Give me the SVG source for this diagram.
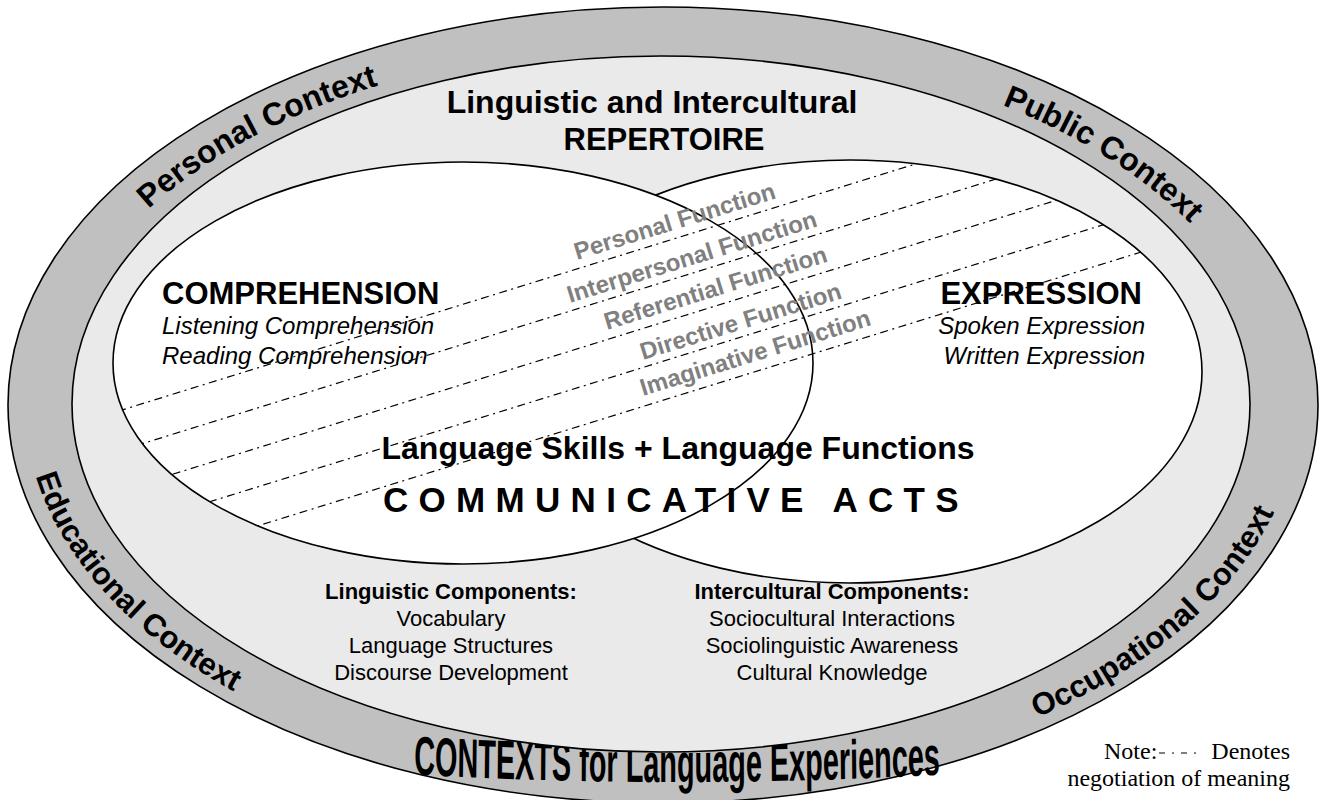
<svg xmlns="http://www.w3.org/2000/svg" width="1323" height="800" viewBox="0 0 1323 800">
<defs>
<style>
.edge{stroke:#000;stroke-width:1.6}
.head{font-family:"Liberation Sans",Arial,sans-serif;font-weight:bold;font-size:31px;fill:#000}
.sub{font-family:"Liberation Sans",Arial,sans-serif;font-style:italic;font-size:24px;fill:#000}
.ctx{font-family:"Liberation Sans",Arial,sans-serif;font-weight:bold;font-size:31px;fill:#000}
.fn{font-family:"Liberation Sans",Arial,sans-serif;font-weight:bold;font-size:24px;fill:#808080}
.comp{font-family:"Liberation Sans",Arial,sans-serif;font-size:22px;fill:#000;text-anchor:middle}
.compb{font-family:"Liberation Sans",Arial,sans-serif;font-size:22px;font-weight:bold;fill:#000;text-anchor:middle}
.dd{fill:none;stroke:#000;stroke-width:1.2;stroke-dasharray:8 4.5 2 4.5}
.note{font-family:"Liberation Serif","Times New Roman",serif;font-size:24px;fill:#000}
</style>
<path id="topArc" d="M 51 405 A 611 361 0 0 1 1273 405"/>
<path id="botArc" d="M 25 405 A 637 387 0 0 0 1299 405"/>
<path id="ctxArc" d="M -423 746 Q 677 818 1777 746"/>
<clipPath id="venn">
<ellipse cx="463" cy="363" rx="350" ry="201"/>
<ellipse cx="850" cy="371.5" rx="352" ry="211.5"/>
</clipPath>
</defs>

<g id="contexts">
<ellipse cx="663" cy="405" rx="655" ry="398" fill="#c0c0c0" class="edge"/>
<text class="ctx" style="font-size:32px"><textPath href="#topArc" startOffset="23%" text-anchor="middle">Personal Context</textPath></text>
<text class="ctx" style="font-size:32px"><textPath href="#topArc" startOffset="79.6%" text-anchor="middle">Public Context</textPath></text>
<text class="ctx"><textPath href="#botArc" startOffset="13.6%" text-anchor="middle">Educational Context</textPath></text>
<text class="ctx"><textPath href="#botArc" startOffset="83.4%" text-anchor="middle">Occupational Context</textPath></text>
<text class="ctx" style="font-size:55px" transform="translate(677 0) scale(0.525 1) translate(-677 0)"><textPath href="#ctxArc" startOffset="50%" text-anchor="middle">CONTEXTS for Language Experiences</textPath></text>
</g>

<g id="repertoire">
<ellipse cx="661" cy="404" rx="589" ry="348" fill="#eaeaea" class="edge"/>
<text class="head" x="652" y="113" text-anchor="middle" style="font-size:32px">Linguistic and Intercultural</text>
<text class="head" x="664" y="150" text-anchor="middle">REPERTOIRE</text>
</g>

<g id="expression">
<ellipse cx="850" cy="371.5" rx="352" ry="211.5" fill="#fff" class="edge"/>
</g>
<g id="comprehension">
<ellipse cx="463" cy="363" rx="350" ry="201" fill="#fff" class="edge"/>
</g>

<g id="negotiation-lines" clip-path="url(#venn)">
<line class="dd" x1="100" y1="416.8" x2="1200" y2="75.8"/>
<line class="dd" x1="100" y1="456.8" x2="1200" y2="115.8"/>
<line class="dd" x1="100" y1="496.8" x2="1200" y2="155.8"/>
<line class="dd" x1="100" y1="535.8" x2="1200" y2="194.8"/>
<line class="dd" x1="100" y1="574.8" x2="1200" y2="233.8"/>
</g>

<g id="comprehension-text">
<text class="head" x="162" y="304">COMPREHENSION</text>
<text class="sub" x="162" y="334">Listening Comprehension</text>
<text class="sub" x="162" y="364">Reading Comprehension</text>
</g>

<g id="expression-text">
<text class="head" x="1142" y="304" text-anchor="end">EXPRESSION</text>
<text class="sub" x="1145" y="334" text-anchor="end">Spoken Expression</text>
<text class="sub" x="1145" y="364" text-anchor="end">Written Expression</text>
</g>

<g id="functions">
<text class="fn" x="577" y="260" transform="rotate(-17.2 577 260)">Personal Function</text>
<text class="fn" x="570" y="303" transform="rotate(-17.2 570 303)">Interpersonal Function</text>
<text class="fn" x="607" y="330" transform="rotate(-17.2 607 330)">Referential Function</text>
<text class="fn" x="643" y="360" transform="rotate(-17.2 643 360)">Directive Function</text>
<text class="fn" x="643" y="396" transform="rotate(-17.2 643 396)">Imaginative Function</text>
</g>

<g id="communicative-acts">
<text class="head" x="678" y="459" text-anchor="middle" style="font-size:32px">Language Skills + Language Functions</text>
<text class="head" x="383" y="512" style="font-size:35px;letter-spacing:10.3px">COMMUNICATIVE ACTS</text>
</g>

<g id="linguistic-components">
<text class="compb" x="451" y="599">Linguistic Components:</text>
<text class="comp" x="451" y="626">Vocabulary</text>
<text class="comp" x="451" y="653">Language Structures</text>
<text class="comp" x="451" y="680">Discourse Development</text>
</g>

<g id="intercultural-components">
<text class="compb" x="832" y="599">Intercultural Components:</text>
<text class="comp" x="832" y="626">Sociocultural Interactions</text>
<text class="comp" x="832" y="653">Sociolinguistic Awareness</text>
<text class="comp" x="832" y="680">Cultural Knowledge</text>
</g>

<g id="note">
<text class="note" x="1104" y="759">Note:</text>
<line x1="1159" y1="753" x2="1201" y2="753" stroke="#000" stroke-width="1.2" stroke-dasharray="6 7 2 7"/>
<text class="note" x="1290" y="759" text-anchor="end">Denotes</text>
<text class="note" x="1290" y="786" text-anchor="end">negotiation of meaning</text>
</g>
</svg>
